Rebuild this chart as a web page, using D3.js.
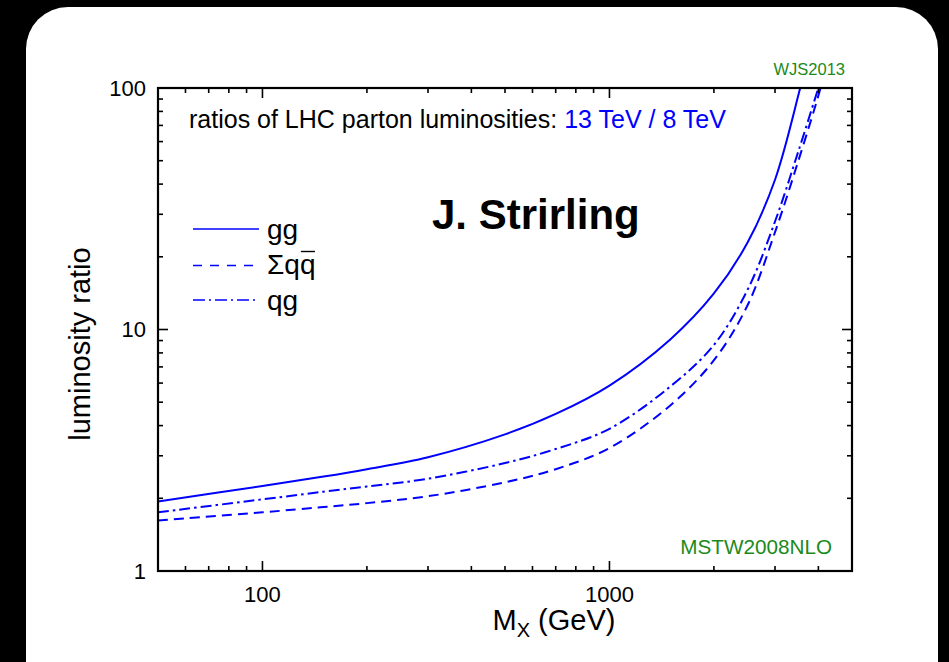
<!DOCTYPE html>
<html>
<head>
<meta charset="utf-8">
<script src="https://cdn.jsdelivr.net/npm/d3@7/dist/d3.min.js"></script>
<style>
  html, body { margin: 0; padding: 0; background: #000; }
  svg { display: block; }
  text { font-family: "Liberation Sans", Arial, Helvetica, sans-serif; }
</style>
</head>
<body>
<svg id="chart" width="949" height="662"></svg>
<script>
// ---- data ----
const massGG  = [50, 100, 150, 200, 300, 500, 700, 1000, 1500, 2000, 2500, 3000, 3500, 3600];
const ratioGG = [1.94, 2.25, 2.46, 2.64, 2.96, 3.68, 4.47, 5.86, 9.12, 14.1, 22.9, 41.7, 93, 110];
const massQQ  = [50, 100, 150, 200, 300, 500, 700, 1000, 1500, 2000, 2500, 3000, 3500, 4000, 4100];
const ratioQQ = [1.62, 1.75, 1.84, 1.91, 2.04, 2.33, 2.64, 3.23, 4.86, 7.46, 12.6, 25.3, 49.8, 92.9, 106];
const massQG  = [50, 100, 150, 200, 300, 500, 700, 1000, 1500, 2000, 2500, 3000, 3500, 4000, 4100];
const ratioQG = [1.75, 1.98, 2.13, 2.24, 2.41, 2.80, 3.20, 3.88, 5.82, 8.63, 14.6, 28, 54.5, 100, 112];
const xTickLabels = [100, 1000];
const yTickLabels = [1, 10, 100];
const seriesNames = ["gg", "Σqq", "qg"];

// ---- layout ----
const svg = d3.select("#chart");
const L = 158, R = 852, T = 88, B = 571;
const blue = "#0000ff", green = "#1b8a1b";

svg.append("rect").attr("x", 0).attr("y", 0).attr("width", 949).attr("height", 662).attr("fill", "#000");
svg.append("rect").attr("x", 26).attr("y", 7).attr("width", 912).attr("height", 700)
  .attr("rx", 42).attr("ry", 42).attr("fill", "#fff");

const x = d3.scaleLog().domain([50, 5000]).range([L, R]);
const y = d3.scaleLog().domain([1, 100]).range([B, T]);

const isMajor = v => Math.abs(Math.log10(v) - Math.round(Math.log10(v))) < 1e-9;

// clip
svg.append("clipPath").attr("id", "plotclip").append("rect")
  .attr("x", L).attr("y", T).attr("width", R - L).attr("height", B - T);

// curves
const line = d3.line().x(d => x(d[0])).y(d => y(d[1])).curve(d3.curveCatmullRom.alpha(0.5));
const series = [
  { m: massGG, r: ratioGG, dash: null },
  { m: massQQ, r: ratioQQ, dash: "10,6" },
  { m: massQG, r: ratioQG, dash: "11,4,2.5,4" }
];
const g = svg.append("g").attr("clip-path", "url(#plotclip)");
series.forEach(s => {
  g.append("path")
    .attr("d", line(s.m.map((m, i) => [m, s.r[i]])))
    .attr("fill", "none").attr("stroke", blue).attr("stroke-width", 2)
    .attr("stroke-dasharray", s.dash);
});

// ticks
const tk = svg.append("g").attr("stroke", "#000").attr("stroke-width", 1.6);
x.ticks().forEach(v => {
  const len = isMajor(v) ? 10 : 5;
  const px = x(v);
  tk.append("line").attr("x1", px).attr("x2", px).attr("y1", B).attr("y2", B - len);
  tk.append("line").attr("x1", px).attr("x2", px).attr("y1", T).attr("y2", T + len);
});
y.ticks().forEach(v => {
  const len = isMajor(v) ? 10 : 5;
  const py = y(v);
  tk.append("line").attr("x1", L).attr("x2", L + len).attr("y1", py).attr("y2", py);
  tk.append("line").attr("x1", R).attr("x2", R - len).attr("y1", py).attr("y2", py);
});

// frame
svg.append("rect").attr("x", L).attr("y", T).attr("width", R - L).attr("height", B - T)
  .attr("fill", "none").attr("stroke", "#000").attr("stroke-width", 2.2);

// tick labels
xTickLabels.forEach(v => {
  svg.append("text").attr("x", x(v)).attr("y", 602).attr("text-anchor", "middle")
    .attr("font-size", 22).attr("fill", "#000").text(v);
});
yTickLabels.forEach(v => {
  svg.append("text").attr("x", 146).attr("y", y(v)).attr("dy", "0.36em").attr("text-anchor", "end")
    .attr("font-size", 22).attr("fill", "#000").text(v);
});

// axis titles
const xt = svg.append("text").attr("x", 554).attr("y", 630).attr("text-anchor", "middle")
  .attr("font-size", 29).attr("fill", "#000");
xt.append("tspan").text("M");
xt.append("tspan").attr("font-size", 20).attr("dy", 7).text("X");
xt.append("tspan").attr("dy", -7).text(" (GeV)");

svg.append("text").attr("transform", "translate(90,344) rotate(-90)").attr("text-anchor", "middle")
  .attr("font-size", 29).attr("fill", "#000").text("luminosity ratio");

// header text
const ht = svg.append("text").attr("x", 189).attr("y", 128).attr("font-size", 25);
ht.append("tspan").attr("fill", "#000").text("ratios of LHC parton luminosities: ");
ht.append("tspan").attr("fill", blue).text("13 TeV / 8 TeV");

svg.append("text").attr("x", 432).attr("y", 229).attr("font-size", 42).attr("font-weight", "bold")
  .attr("fill", "#000").text("J. Strirling");

svg.append("text").attr("x", 845).attr("y", 75).attr("text-anchor", "end").attr("font-size", 16.5)
  .attr("fill", green).text("WJS2013");
svg.append("text").attr("x", 832).attr("y", 554).attr("text-anchor", "end").attr("font-size", 20.7)
  .attr("fill", green).text("MSTW2008NLO");

// legend
const legY = [229, 265.5, 300];
series.forEach((s, i) => {
  svg.append("line").attr("x1", 193).attr("x2", 259).attr("y1", legY[i]).attr("y2", legY[i])
    .attr("stroke", blue).attr("stroke-width", 1.5)
    .attr("stroke-dasharray", i === 1 ? "9,8" : (i === 2 ? "12,4,2,4" : null));
});
svg.append("text").attr("x", 267).attr("y", legY[0] + 9.5).attr("font-size", 28).text(seriesNames[0]);
const t2 = svg.append("text").attr("x", 267).attr("y", legY[1] + 8.5).attr("font-size", 28)
  .text(seriesNames[1]);
// overline above the antiquark
const n2 = t2.node();
const full = n2.getComputedTextLength();
const lastW = n2.getSubStringLength(2, 1);
svg.append("line").attr("x1", 267 + full - lastW + 1).attr("x2", 267 + full - 0.5)
  .attr("y1", 251.5).attr("y2", 251.5).attr("stroke", "#000").attr("stroke-width", 1.4);
svg.append("text").attr("x", 267).attr("y", legY[2] + 9.5).attr("font-size", 28).text(seriesNames[2]);
</script>
</body>
</html>
